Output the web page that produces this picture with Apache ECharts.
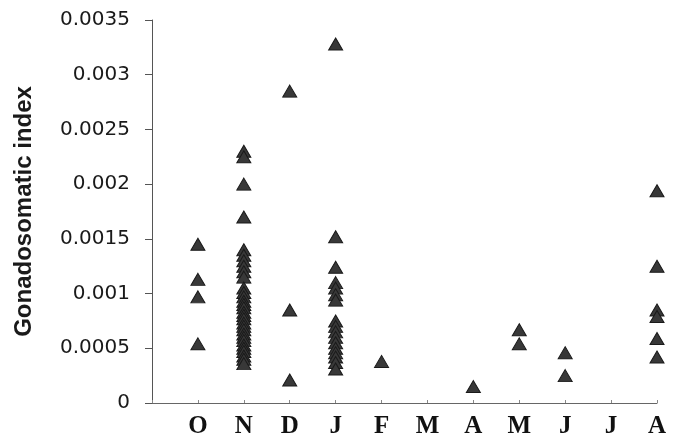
<!DOCTYPE html>
<html>
<head>
<meta charset="utf-8">
<script src="https://cdn.jsdelivr.net/npm/echarts@6/dist/echarts.min.js"></script>
<style>
  html, body { margin: 0; padding: 0; background: #fff; }
  #chart { width: 684px; height: 439px; }
</style>
</head>
<body>
<div id="chart"></div>
<script>
// Month labels along the x axis (positions 1..11)
const monthLabels = ['O', 'N', 'D', 'J', 'F', 'M', 'A', 'M', 'J', 'J', 'A'];
// Y axis tick range
const yTicks = [0, 0.0005, 0.001, 0.0015, 0.002, 0.0025, 0.003, 0.0035];

// Gonadosomatic index values per month
const valsO = [0.00145, 0.00113, 0.00097, 0.00054];
const valsN = [0.0023, 0.00225, 0.0020, 0.0017, 0.0014, 0.00135, 0.0013, 0.00125, 0.0012, 0.00115,
  0.00105, 0.00101, 0.00097, 0.00093, 0.0009, 0.00087, 0.00083, 0.0008, 0.00077, 0.00073,
  0.0007, 0.00067, 0.00063, 0.0006, 0.00057, 0.00053, 0.0005, 0.00047, 0.00043, 0.0004, 0.00036];
const valsD = [0.00285, 0.00085, 0.00021];
const valsJan = [0.00328, 0.00152, 0.00124, 0.0011, 0.00105, 0.00099, 0.00094,
  0.00075, 0.0007, 0.00065, 0.0006, 0.00055, 0.0005, 0.00046, 0.00042, 0.00037, 0.00031];
const valsF = [0.00038];
const valsMar = [];
const valsApr = [0.00015];
const valsMay = [0.00067, 0.00054];
const valsJun = [0.00046, 0.00025];
const valsJul = [];
const valsAug = [0.00194, 0.00125, 0.00085, 0.00079, 0.00059, 0.00042];

const monthValues = [valsO, valsN, valsD, valsJan, valsF, valsMar, valsApr, valsMay, valsJun, valsJul, valsAug];

const points = [];
monthValues.forEach((arr, i) => {
  arr.forEach(v => points.push([i + 1, v]));
});

const chart = echarts.init(document.getElementById('chart'));
chart.setOption({
  animation: false,
  backgroundColor: '#ffffff',
  grid: { left: 152, right: 27, top: 20, bottom: 35, containLabel: false },
  xAxis: {
    type: 'value',
    min: 0,
    max: 11,
    interval: 1,
    splitLine: { show: false },
    axisLine: { show: true, lineStyle: { color: '#666', width: 1 } },
    axisTick: { show: true, inside: true, length: 3, lineStyle: { color: '#888' } },
    axisLabel: {
      margin: 11,
      fontFamily: 'Liberation Serif',
      fontWeight: 'bold',
      fontSize: 25,
      color: '#111',
      formatter: v => (v >= 1 && v <= 11 ? monthLabels[Math.round(v) - 1] : '')
    }
  },
  yAxis: {
    type: 'value',
    min: yTicks[0],
    max: yTicks[yTicks.length - 1],
    interval: 0.0005,
    name: 'Gonadosomatic index',
    nameLocation: 'middle',
    nameGap: 116,
    nameRotate: 90,
    nameTextStyle: {
      fontFamily: 'Liberation Sans',
      fontWeight: 'bold',
      fontSize: 24,
      color: '#1a1a1a'
    },
    splitLine: { show: false },
    axisLine: { show: true, lineStyle: { color: '#555', width: 1 } },
    axisTick: { show: true, inside: false, length: 7, lineStyle: { color: '#555' } },
    axisLabel: {
      margin: 22,
      fontFamily: 'DejaVu Sans',
      fontSize: 20,
      color: '#1a1a1a',
      formatter: v => String(parseFloat(v.toFixed(4)))
    }
  },
  series: [{
    type: 'scatter',
    data: points,
    symbol: 'triangle',
    symbolSize: [14, 12],
    itemStyle: { color: '#383838', borderColor: '#1a1a1a', borderWidth: 1, opacity: 1 }
  }]
});
</script>
</body>
</html>
